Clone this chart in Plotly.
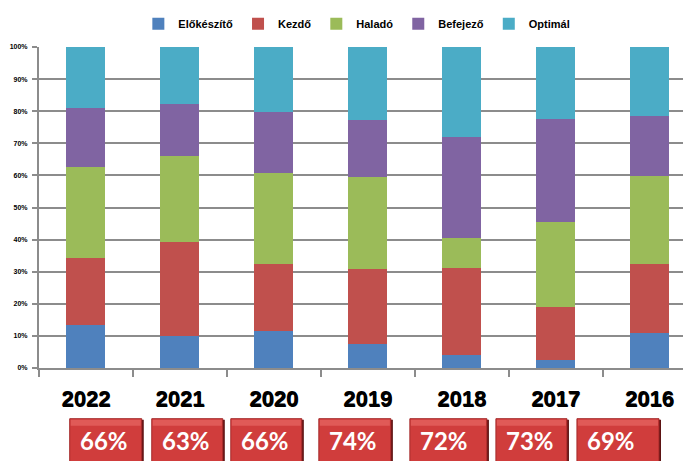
import plotly.graph_objects as go

# ---------------- data ----------------
years = ["2022", "2021", "2020", "2019", "2018", "2017", "2016"]
series_names = ["Előkészítő", "Kezdő", "Haladó", "Befejező", "Optimál"]
elokeszito = [13.3, 10.1, 11.4, 7.5, 4.0, 2.4, 10.9]
kezdo      = [21.0, 29.3, 21.0, 23.3, 27.1, 16.6, 21.6]
halado     = [28.2, 26.5, 28.3, 28.6, 9.5, 26.4, 27.2]
befejezo   = [18.5, 16.4, 19.2, 17.9, 31.4, 32.2, 18.9]
optimal    = [19.0, 17.7, 20.1, 22.7, 28.0, 22.4, 21.4]
box_labels = ["66%", "63%", "66%", "74%", "72%", "73%", "69%"]
y_ticks = [0, 10, 20, 30, 40, 50, 60, 70, 80, 90, 100]
y_tick_text = [f"{v}%" for v in y_ticks]

# ---------------- style ----------------
colors = ["#4F81BD", "#C0504D", "#9BBB59", "#8064A2", "#4BACC6"]
OFF = 8                      # page body margin in the browser
W, H = 691 - OFF, 461 - OFF  # figure size
# page-pixel geometry of the plot area
PL, PR = 39.3, 691.0
PT, PB = 47.3, 368.3
# page-pixel placement of the red boxes under the chart (layout only)
box_left = [70, 152, 231, 319, 410, 496, 577]
box_right = [142, 223, 302, 391, 487, 567, 659]
box_top, box_bottom = 419, 463

def px_x(p):
    return (p - PL) / (PR - PL)

def px_y(p):
    return (PB - p) / (PB - PT)

fig = go.Figure()
for name, vals, col in zip(series_names,
                           [elokeszito, kezdo, halado, befejezo, optimal],
                           colors):
    fig.add_trace(go.Bar(x=years, y=vals, name=name,
                         marker=dict(color=col, line=dict(width=0))))

shapes = []
annotations = []
for bl, br, lab in zip(box_left, box_right, box_labels):
    # shadow
    shapes.append(dict(type="rect", xref="paper", yref="paper",
                       x0=px_x(bl + 1), x1=px_x(br + 2),
                       y0=px_y(box_bottom), y1=px_y(box_top + 1),
                       fillcolor="#5a1010", line=dict(width=0), layer="above"))
    # main box
    shapes.append(dict(type="rect", xref="paper", yref="paper",
                       x0=px_x(bl), x1=px_x(br),
                       y0=px_y(box_bottom), y1=px_y(box_top),
                       fillcolor="#D03D3C", line=dict(color="#A52A2A", width=1),
                       layer="above"))
    # highlight
    shapes.append(dict(type="rect", xref="paper", yref="paper",
                       x0=px_x(bl + 1), x1=px_x(br - 1),
                       y0=px_y(box_top + 7), y1=px_y(box_top + 1),
                       fillcolor="#E05A57", line=dict(width=0), layer="above"))
    annotations.append(dict(xref="paper", yref="paper",
                            x=px_x(bl + 8), y=px_y(441),
                            xanchor="left", yanchor="middle",
                            text=lab, showarrow=False,
                            font=dict(family="Lato", size=24, color="white",
                                      weight="bold")))

fig.update_layout(
    width=W, height=H,
    margin=dict(l=PL - OFF, r=691 - PR, t=PT - OFF, b=461 - PB,
                pad=0, autoexpand=False),
    paper_bgcolor="white", plot_bgcolor="white",
    barmode="stack", bargap=0.585,
    showlegend=True,
    legend=dict(orientation="h", x=px_x(357), y=px_y(24),
                xanchor="center", yanchor="middle",
                traceorder="normal",
                font=dict(family="Liberation Sans", size=11, color="black",
                          weight="bold"),
                itemwidth=30, tracegroupgap=0,
                bgcolor="rgba(0,0,0,0)"),
    shapes=shapes,
    annotations=annotations,
    xaxis=dict(type="category", categoryorder="array", categoryarray=years,
               range=[-0.5, (PR - PL) / ((649.5 - 86.2) / 6) - 0.5],
               showline=True, linecolor="#8c8c8c", linewidth=2,
               ticks="outside", tickson="boundaries", ticklen=7,
               tickcolor="#8c8c8c", tickwidth=2,
               ticklabelstandoff=10,
               tickfont=dict(family="Liberation Sans", size=22, color="black",
                             weight="bold", shadow="0.6px 0.6px 0 #000"),
               showgrid=False, zeroline=False, fixedrange=True),
    yaxis=dict(range=[0, 100], tickvals=y_ticks, ticktext=y_tick_text,
               showline=True, linecolor="#8c8c8c", linewidth=2,
               ticks="outside", ticklen=5, tickcolor="#8c8c8c", tickwidth=2,
               showgrid=True, gridcolor="#8c8c8c", gridwidth=2,
               zeroline=False, ticklabelstandoff=3,
               tickfont=dict(family="Liberation Sans", size=7, color="black",
                             weight="bold"),
               fixedrange=True),
)

fig.write_html("out.html")
